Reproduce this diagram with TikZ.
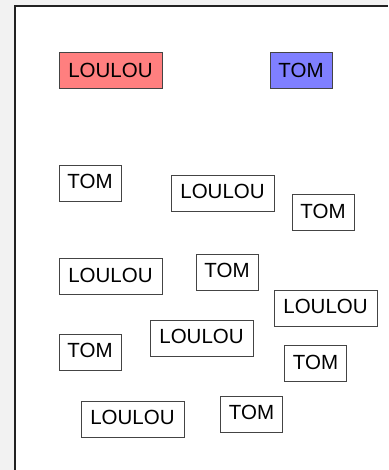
\documentclass[tikz,border=0pt]{standalone}
\usepackage{fontspec}
\setmainfont{Liberation Sans}
\definecolor{bggray}{HTML}{F2F2F2}
\definecolor{frame}{HTML}{222222}
\definecolor{boxline}{HTML}{444444}
\definecolor{redfill}{HTML}{FF7F7F}
\definecolor{bluefill}{HTML}{7F7FFF}
\tikzset{
  namebox/.style={draw=boxline, line width=0.9pt, rectangle, inner sep=0pt,
    minimum height=36pt, font=\fontsize{20.5}{21}\selectfont, text=black,
    text height=14.5pt, text depth=3pt},
  lou/.style={namebox, minimum width=103pt},
  tom/.style={namebox, minimum width=62pt},
  coloured/.style={text depth=0pt}
}
\begin{document}
\begin{tikzpicture}[x=1pt,y=-1pt]
\useasboundingbox (0,0) rectangle (388,470);
\fill[bggray] (0,0) rectangle (388,470);
\fill[white] (15,6) rectangle (388,470);
\draw[frame, line width=2pt] (15,470) -- (15,6) -- (388,6);
\node[lou, coloured, fill=redfill] (r) at (110.5,70.5) {LOULOU};
\node[tom, coloured, fill=bluefill] (b) at (301,70.5) {TOM};
\node[tom] (t1) at (90,183) {TOM};
\node[lou] (l1) at (222.5,193) {LOULOU};
\node[tom] (t2) at (323,212.5) {TOM};
\node[lou] (l2) at (110.5,276.5) {LOULOU};
\node[tom] (t3) at (227,272) {TOM};
\node[lou] (l3) at (325.5,308) {LOULOU};
\node[tom] (t4) at (90,352) {TOM};
\node[lou] (l4) at (201.5,338) {LOULOU};
\node[tom] (t5) at (315.5,363.5) {TOM};
\node[lou] (l5) at (132.5,419) {LOULOU};
\node[tom] (t6) at (251.5,414) {TOM};
\end{tikzpicture}
\end{document}
